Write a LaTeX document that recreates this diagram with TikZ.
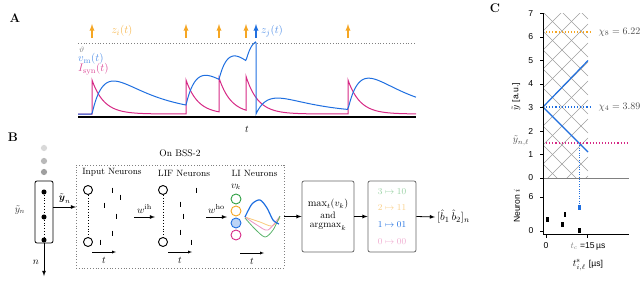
\documentclass[tikz,border=0pt]{standalone}
\usepackage{amsmath}
\usepackage{amssymb}
\usepackage{fontspec}
\newfontfamily\plotfont{Liberation Sans}
\usepackage{tikz}

\definecolor{vblue}{HTML}{1F6FE0}
\definecolor{smag}{HTML}{D62A86}
\definecolor{sorange}{HTML}{F5A623}
\definecolor{sgreen}{HTML}{2EA043}

\newcommand{\bigtxt}{\fontsize{11.4}{13}\selectfont}
\newcommand{\midtxt}{\fontsize{10.4}{12}\selectfont}
\newcommand{\coltxt}{\fontsize{9.1}{11}\selectfont}
\newcommand{\ticktxt}{\plotfont\fontsize{8.6}{10}\selectfont}

\tikzset{
  spikearrow/.style={-latex, line width=1.3pt},
  vmcurve/.style={vblue, line width=1pt},
  isyncurve/.style={smag, line width=1pt},
  neuronring/.style={circle, draw, line width=0.9pt, minimum size=9pt, inner sep=0pt},
  procbox/.style={draw, rounded corners=2pt, thick, gray!80!black},
  spkbar/.style={line width=1pt},
  taxis/.style={-latex, thin},
  flow/.style={-latex, thick},
  panel/.style={font=\bfseries\fontsize{12.5}{14}\selectfont},
}

\begin{document}
\begin{tikzpicture}[x=1pt, y=-1pt,
    declare function={vk(\u)=72.7*(exp(-max(\u,0)/45)-exp(-max(\u,0)/12));}]
    \useasboundingbox (0,0) rectangle (640,289);

    % Panel A: membrane and current traces
    \node[panel] (lblA) at (15,18) {A};
    \foreach \s in {92,186,219,246,348}
        \draw[spikearrow, sorange] (\s,38) -- (\s,24);
    \draw[spikearrow, vblue] (256,38) -- (256,24);
    \node[sorange!80, font=\bigtxt] (zi) at (122,31) {$z_i(t)$};
    \node[vblue!75, font=\bigtxt] (zj) at (272,31) {$z_j(t)$};
    \draw[gray, dotted, thick] (78,43) -- (416,43);
    \node[gray, anchor=west, inner sep=1pt] (theta) at (78,50) {\footnotesize$\vartheta$};
    \node[vblue!75, anchor=west, inner sep=1pt, font=\bigtxt] (vm) at (77,59) {$v_{\mathrm{m}}(t)$};
    \node[smag!85, anchor=west, inner sep=1pt, font=\bigtxt] (isyn) at (77,69) {$I_{\mathrm{syn}}(t)$};
    \draw[isyncurve] (78,114) -- (92,114)
        -- plot[domain=92:186, samples=60] (\x,{114-34*exp(-(\x-92)/12)})
        -- plot[domain=186:219, samples=30] (\x,{114-34*(exp(-(\x-186)/12)+exp(-(\x-92)/12))})
        -- plot[domain=219:246, samples=30] (\x,{114-34*(exp(-(\x-219)/12)+exp(-(\x-186)/12))})
        -- plot[domain=246:348, samples=70] (\x,{114-34*(exp(-(\x-246)/12)+exp(-(\x-219)/12)+exp(-(\x-186)/12))})
        -- plot[domain=348:416, samples=50] (\x,{114-34*exp(-(\x-348)/12)});
    \draw[vmcurve] plot[domain=78:255.5, samples=200]
            (\x,{114-vk(\x-92)-vk(\x-186)-vk(\x-219)-vk(\x-246)})
        -- (256,43) -- (256,114)
        -- plot[domain=256:416, samples=120]
            (\x,{114-35.1*(exp(-(\x-256)/45)-exp(-(\x-256)/12))-vk(\x-348)});
    \draw[line width=1.2pt] (78,117) -- (416,117);
    \node[font=\midtxt] (tA) at (247,129) {$t$};

    % Panel B: processing chain
    \node[panel] (lblB) at (13,137) {B};
    \node[circle, fill=gray!30, inner sep=2.2pt] (g1) at (44,148) {};
    \node[circle, fill=gray!55, inner sep=2.2pt] (g2) at (44,161) {};
    \node[circle, fill=gray!75, inner sep=2.2pt] (g3) at (44,172) {};
    \node[draw, rounded corners=2pt, thick, minimum width=18pt, minimum height=62pt] (vecbox) at (44,212) {};
    \node[circle, fill, inner sep=1.8pt] (d1) at (44,192) {};
    \node[circle, fill, inner sep=1.8pt] (d2) at (44,217) {};
    \node[circle, fill, inner sep=1.8pt] (d3) at (44,240) {};
    \draw[dotted, thick] (d1) -- (d2) -- (d3);
    \node[gray!40!black, font=\midtxt] (ytil) at (20,210) {$\tilde{y}_n$};
    \coordinate (bssin) at (76,207);
    \draw[flow] (vecbox.east |- bssin) -- (bssin) node[midway, above, font=\midtxt] (ybold) {$\tilde{\boldsymbol{y}}_n$};
    \coordinate (nend) at (44,276);
    \draw[flow] (vecbox.south) -- (nend);
    \node[font=\midtxt] (nlbl) at (36,262) {$n$};

    \node[draw=gray, dotted, thick, minimum width=208pt, minimum height=103pt] (bssbox) at (180,216.5) {};
    \node[font=\fontsize{9.5}{11}\selectfont] (bsslbl) at (180,153) {On BSS-2};
    \node[font=\coltxt] (inlbl) at (112,172) {Input Neurons};
    \node[font=\coltxt] (liflbl) at (184,173) {LIF Neurons};
    \node[font=\coltxt, anchor=west] (lilbl) at (228,173) {LI Neurons};

    % input column
    \node[neuronring] (in1) at (88,190) {};
    \node[neuronring] (in2) at (88,242) {};
    \draw[dotted, thick] (in1) -- (in2);
    \foreach \px/\py in {112/190,120/197,104/205,116/216,112/233,100/242}
        \draw[spkbar] (\px,{\py-2.5}) -- (\px,{\py+2.5});
    \coordinate (ta1) at (92,252);
    \coordinate (tb1) at (116,252);
    \draw[taxis] (ta1) -- (tb1) node[midway, below=2pt, font=\midtxt] (tin) {$t$};

    \coordinate (wa1) at (134,217);
    \coordinate (wb1) at (155,217);
    \draw[flow] (wa1) -- (wb1) node[midway, above, font=\midtxt] (wih) {$w^{\mathrm{ih}}$};

    % LIF column
    \node[neuronring] (lif1) at (163,190) {};
    \node[neuronring] (lif2) at (163,242) {};
    \draw[dotted, thick] (lif1) -- (lif2);
    \foreach \px/\py in {196/190,180/204,183/216,180/232,191/242}
        \draw[spkbar] (\px,{\py-2.5}) -- (\px,{\py+2.5});
    \coordinate (ta2) at (168,252);
    \coordinate (tb2) at (192,252);
    \draw[taxis] (ta2) -- (tb2) node[midway, below=2pt, font=\midtxt] (tlif) {$t$};

    \coordinate (wa2) at (206,217);
    \coordinate (wb2) at (227,217);
    \draw[flow] (wa2) -- (wb2) node[midway, above, font=\midtxt] (who) {$w^{\mathrm{ho}}$};

    % LI column
    \node[font=\midtxt] (vklbl) at (236,187) {$v_k$};
    \node[neuronring, draw=sgreen, minimum size=10pt] (li3) at (236,199) {};
    \node[neuronring, draw=sorange, minimum size=10pt] (li2) at (236,211) {};
    \node[neuronring, draw=vblue, fill=vblue!30, minimum size=10pt] (li1) at (236,223) {};
    \node[neuronring, draw=smag, minimum size=10pt] (li0) at (236,235) {};
    \draw[sorange!60, thick] plot[smooth] coordinates {(245,217) (260,222) (272,226) (280,218)};
    \draw[smag!50, thick] plot[smooth] coordinates {(245,217) (257,225) (268,230) (280,216)};
    \draw[sgreen!80, thick] plot[smooth] coordinates {(245,218) (255,229) (265,237) (273,230) (280,216)};
    \draw[vblue, line width=1.2pt] plot[smooth] coordinates {(245,217) (252,204) (260,200) (267,208) (273,220) (279,224)};
    \coordinate (ta3) at (240,253);
    \coordinate (tb3) at (264,253);
    \draw[taxis] (ta3) -- (tb3) node[midway, below=2pt, font=\midtxt] (tli) {$t$};

    % read-out boxes
    \node[procbox, minimum width=52pt, minimum height=71pt] (maxbox) at (328,216.5) {};
    \node[font=\midtxt] (mx1) at (328,204) {$\max_t(v_k)$};
    \node[font=\fontsize{9.5}{11}\selectfont] (mx2) at (328,215) {and};
    \node[font=\fontsize{9.7}{11}\selectfont] (mx3) at (328,227) {$\operatorname{argmax}_k$};
    \node[procbox, minimum width=48pt, minimum height=71pt] (codebox) at (392,216.5) {};
    \node[sgreen!50, font=\coltxt] (c3) at (392,192) {$3\mapsto10$};
    \node[sorange!55, font=\coltxt] (c2) at (392,208) {$2\mapsto11$};
    \node[vblue, font=\coltxt] (c1) at (392,225) {$1\mapsto01$};
    \node[smag!40, font=\coltxt] (c0) at (392,242) {$0\mapsto00$};
    \node[font=\bigtxt, anchor=west, inner sep=2pt] (outlbl) at (435,217) {$[\hat{b}_1\,\hat{b}_2]_n$};
    \draw[flow] (bssbox.east) -- (maxbox.west);
    \draw[flow] (maxbox.east) -- (codebox.west);
    \draw[flow] (codebox.east) -- (outlbl.west);

    % Panel C: decoding lattice
    \node[panel] (lblC) at (495,8) {C};
    \begin{scope}
        \clip (543,13) rectangle (588,178);
        \foreach \k in {-8,...,4}
            \draw[gray!75, thin] (543,{107+19*\k}) -- (588,{152+19*\k});
        \foreach \m in {-5,...,6}
            \draw[gray!75, thin] (543,{107+19*\m}) -- (588,{62+19*\m});
    \end{scope}
    \draw[vblue, line width=1.2pt] (588,60.5) -- (543,107) -- (588,152);
    \draw[sorange, dotted, line width=1.1pt] (543,32) -- (592,32);
    \node[gray!60!black, anchor=west, font=\fontsize{10.3}{12}\selectfont] (chi8) at (595,32) {$\chi_8=6.22$};
    \draw[vblue, dotted, line width=1.1pt] (543,107) -- (592,107);
    \node[gray!60!black, anchor=west, font=\fontsize{10.3}{12}\selectfont] (chi4) at (595,107) {$\chi_4=3.89$};
    \draw[smag, dotted, line width=1.1pt] (543,143) -- (628,143);
    \node[gray!60!black] (ynl) at (521,141) {$\tilde{y}_{n,\ell}$};
    \draw[vblue, dotted] (579,143) -- (579,207);
    \fill[vblue] (578,205) rectangle (580.5,210);
    \draw[gray, thick] (543,178) -- (629,178);
    % axes
    \draw[line width=1pt] (543,13) -- (543,234) -- (629,234);
    \foreach \v in {0,...,7}
        \draw[line width=0.8pt] (540,{178-23.5*\v}) -- (543,{178-23.5*\v})
            node[left=3pt, font=\ticktxt] (ty\v) at (540,{178-23.5*\v}) {\v};
    \node[rotate=90] (ylabC) at (516,97) {$\tilde{y}$ {\ticktxt [a.u.]}};
    \draw[line width=0.8pt] (540,197) -- (543,197);
    \draw[line width=0.8pt] (540,231) -- (543,231);
    \node[font=\ticktxt] (n6) at (531,197) {6};
    \node[font=\ticktxt] (n0) at (531,231) {0};
    \node[rotate=90, font=\ticktxt] (nlab) at (517,206) {Neuron $i$};
    \fill (546,216.5) rectangle (548.5,221.5);
    \fill (561,222) rectangle (563.5,227);
    \fill (563.5,211.5) rectangle (566,216.5);
    \fill (578,227.5) rectangle (580.5,232.5);
    \draw[line width=0.8pt] (546,234) -- (546,238);
    \draw[line width=0.8pt] (587,234) -- (587,238);
    \node[font=\ticktxt] (x0) at (546,246) {0};
    \node[font=\ticktxt] (xtc) at (588,246) {{\color{gray}$t_c$} =15\,µs};
    \node[inner sep=1pt] (xlab) at (588,265) {$t^{\mathrm{s}}_{i,\ell}$ {\ticktxt [µs]}};
\end{tikzpicture}
\end{document}
